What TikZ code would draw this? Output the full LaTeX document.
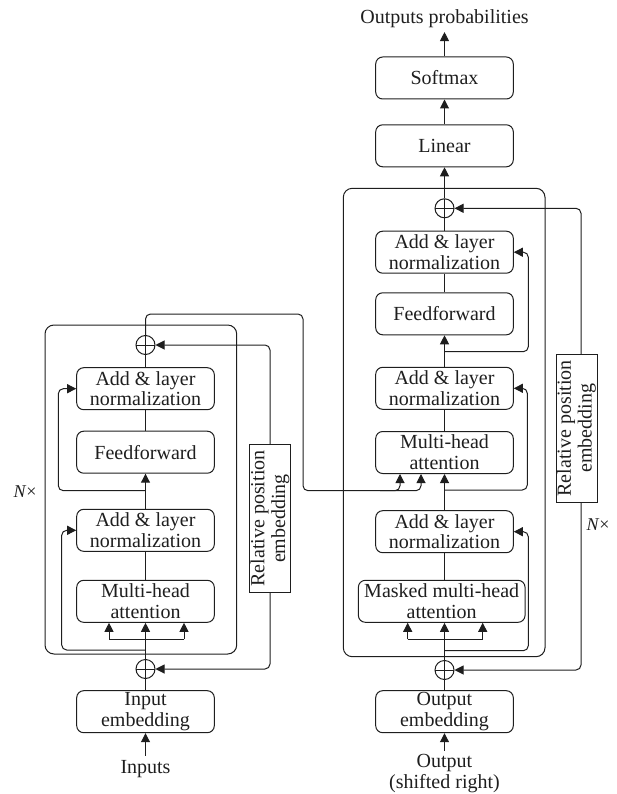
\documentclass[tikz,border=0pt]{standalone}
\usepackage{fontspec}
\setmainfont{Liberation Serif}
\usetikzlibrary{arrows.meta,calc}
\definecolor{ink}{RGB}{30,30,30}
\newcommand\diafont{\fontsize{20}{20.7}\selectfont}
\begin{document}
\begin{tikzpicture}[x=1pt,y=-1pt,line width=1pt,
  blk/.style={draw=ink,rounded corners=7pt,minimum width=137.6pt,minimum height=42pt,inner sep=0pt,align=center,font=\diafont,text=ink},
  wblk/.style={blk,minimum width=166.7pt},
  rpe/.style={draw=ink,rotate=90,minimum width=148pt,minimum height=41pt,inner sep=0pt,align=center,font=\diafont,text=ink},
  oplus/.style={draw=ink,circle,minimum size=19pt,inner sep=0pt,
    path picture={\draw[ink,line width=1pt] (path picture bounding box.north) -- (path picture bounding box.south) (path picture bounding box.west) -- (path picture bounding box.east);}},
  lbl/.style={font=\diafont,inner sep=4pt,align=center,text=ink},
  frm/.style={draw=ink,rounded corners=9pt,inner sep=0pt},
  conn/.style={draw=ink,rounded corners=5pt},
  arr/.style={conn,-{Triangle[length=9pt,width=9pt]}}]
\useasboundingbox (0,0) rectangle (616,794);

% ---------------- Encoder ----------------
\node[frm,minimum width=191.7pt,minimum height=329pt] (encf) at (140.85,489.5) {};
\node[blk] (inemb) at (145.5,711.7) {Input\\embedding};
\node[blk] (mhae) at (145.5,601.3) {Multi-head\\attention};
\node[blk] (an1e) at (145.5,530.3) {Add \& layer\\normalization};
\node[blk] (ffe) at (145.5,452.2) {Feedforward};
\node[blk] (an2e) at (145.5,388.7) {Add \& layer\\normalization};
\node[oplus] (pe1) at (145.5,669) {};
\node[oplus] (pe2) at (145.5,345) {};
\node[rpe] (rpee) at (270,518.5) {Relative position\\embedding};
\node[lbl] (inputs) at (145.5,769) {Inputs};
\node[lbl] (nxe) at (25,492) {\fontsize{18}{18}\selectfont\textit{N}×};

\draw[arr] (inputs) -- (inemb);
\draw[conn] (inemb) -- (pe1);
\draw[arr] (pe1) -- (mhae);
\coordinate (esl) at (109,639.3);
\coordinate (esr) at (184,639.3);
\draw[conn,rounded corners=0pt] (esl) -- (esr);
\draw[arr] (esl) -- (esl |- mhae.south);
\draw[arr] (esr) -- (esr |- mhae.south);
\coordinate (er1) at (145.5,650);
\draw[arr] (er1) -- (61.7,650) |- (an1e.west);
\draw[conn] (mhae) -- (an1e);
\draw[arr] (an1e) -- (ffe);
\coordinate (er2) at (145.5,490.7);
\draw[arr] (er2) -- (58.3,490.7) |- (an2e.west);
\draw[conn] (ffe) -- (an2e);
\draw[conn] (an2e) -- (pe2);
\draw[arr] (rpee.east) |- (pe2.east);
\draw[arr] (rpee.west) |- (pe1.east);

% ---------------- Decoder ----------------
\node[frm,minimum width=201.7pt,minimum height=468.4pt] (decf) at (444.15,422.5) {};
\node[blk] (outemb) at (444.5,711.7) {Output\\embedding};
\node[wblk] (mmha) at (441.7,601.3) {Masked multi-head\\attention};
\node[blk] (an1d) at (444.5,531.7) {Add \& layer\\normalization};
\node[blk] (mhad) at (444.5,452.5) {Multi-head\\attention};
\node[blk] (an2d) at (444.5,388.3) {Add \& layer\\normalization};
\node[blk] (ffd) at (444.5,313.8) {Feedforward};
\node[blk] (an3d) at (444.5,252.2) {Add \& layer\\normalization};
\node[oplus] (pd1) at (444.5,670) {};
\node[oplus] (pd2) at (444.5,208.3) {};
\node[blk] (lin) at (444.5,145.8) {Linear};
\node[blk] (soft) at (444.5,78) {Softmax};
\node[lbl] (outp) at (444.5,18.5) {Outputs probabilities};
\node[lbl,inner sep=3pt] (outs) at (444.5,773.5) {Output\\(shifted right)};
\node[rpe] (rped) at (576.5,428.3) {Relative position\\embedding};
\node[lbl] (nxd) at (598,525) {\fontsize{18}{18}\selectfont\textit{N}×};

\draw[arr] (outs) -- (outemb);
\draw[conn] (outemb) -- (pd1);
\draw[arr] (pd1) -- (pd1 |- mmha.south);
\coordinate (dsl) at (407.7,639.3);
\coordinate (dsr) at (482.7,639.3);
\draw[conn,rounded corners=0pt] (dsl) -- (dsr);
\draw[arr] (dsl) -- (dsl |- mmha.south);
\draw[arr] (dsr) -- (dsr |- mmha.south);
\coordinate (dr1) at (444.5,650.7);
\draw[arr] (dr1) -- (528.3,650.7) |- (an1d.east);
\draw[conn] (pd1 |- mmha.north) -- (an1d);
\draw[arr] (an1d) -- (mhad);
\coordinate (dr2) at (444.5,490);
\draw[arr] (dr2) -- (527.3,490) |- (an2d.east);
\draw[conn] (mhad) -- (an2d);
\draw[arr] (an2d) -- (ffd);
\coordinate (dr3) at (444.5,351.7);
\draw[arr] (dr3) -- (528.3,351.7) |- (an3d.east);
\draw[conn] (ffd) -- (an3d);
\draw[conn] (an3d) -- (pd2);
\draw[arr] (pd2) -- (lin);
\draw[arr] (lin) -- (soft);
\draw[arr] (soft) -- (outp);
\draw[arr] ($(rped.east)+(4.5,0)$) |- (pd2.east);
\draw[arr] ($(rped.west)+(4.5,0)$) |- (pd1.east);

% ---------------- Encoder to decoder ----------------
\coordinate (xa) at ($(mhad.south)+(-23.5,0)$);
\coordinate (xb) at ($(mhad.south)+(-44.5,0)$);
\draw[arr] (pe2.north) |- (303,314) |- ($(xa)+(0,16.7)$) -- (xa);
\draw[arr] ($(xb)+(-20,16.7)$) -| (xb);
\end{tikzpicture}
\end{document}
